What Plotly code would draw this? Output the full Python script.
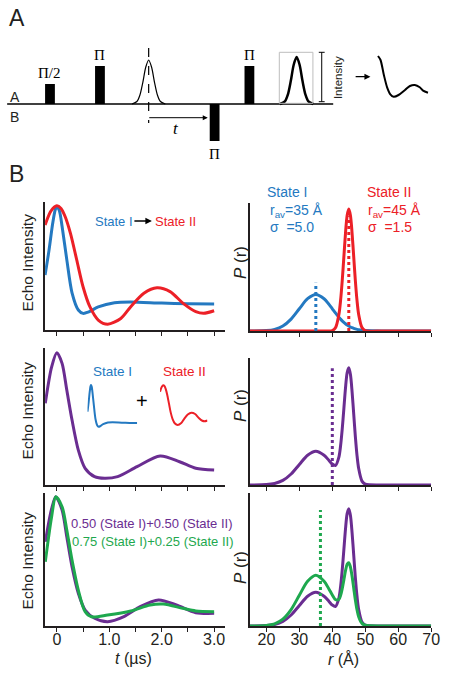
import plotly.graph_objects as go

W, H = 450, 674
def px(x): return x / W
def py(y): return 1 - y / H

FONT = "Liberation Sans, Arial, sans-serif"
SERIF = "Liberation Serif, Times New Roman, serif"
BLUE = "#2479c1"; RED = "#ec2027"; PURPLE = "#6a2d91"; GREEN = "#1ea84e"; AX = "#231f20"

# ---------------- Panel B data ----------------
t_blue = [-0.224, -0.15, -0.08, -0.03, 0.0, 0.05, 0.1, 0.19, 0.29, 0.41, 0.5, 0.6, 0.79, 1.1, 1.4, 2.0, 2.5, 3.0]
v_blue = [0.43, 0.62, 0.83, 0.94, 0.965, 0.93, 0.81, 0.55, 0.29, 0.156, 0.13, 0.14, 0.18, 0.213, 0.219, 0.21, 0.205, 0.203]
t_red = [-0.224, -0.11, 0.0, 0.08, 0.16, 0.26, 0.38, 0.5, 0.63, 0.79, 0.97, 1.22, 1.41, 1.66, 1.91, 2.16, 2.41, 2.65, 2.8, 3.0]
v_red = [0.82, 0.93, 0.97, 0.95, 0.885, 0.755, 0.547, 0.338, 0.182, 0.078, 0.045, 0.09, 0.182, 0.287, 0.33, 0.30, 0.208, 0.143, 0.13, 0.15]
t_mix = [-0.22, -0.1, 0.0, 0.1, 0.19, 0.29, 0.41, 0.54, 0.72, 0.91, 1.16, 1.53, 1.97, 2.34, 2.65, 3.0]
v_mix = [0.596, 0.86, 0.966, 0.888, 0.693, 0.474, 0.255, 0.122, 0.061, 0.049, 0.061, 0.134, 0.212, 0.17, 0.122, 0.109]
t_p50 = [-0.22, -0.1, -0.02, 0.1, 0.19, 0.29, 0.41, 0.54, 0.72, 0.97, 1.28, 1.59, 1.94, 2.28, 2.65, 3.0]
v_p50 = [0.634, 0.88, 0.972, 0.872, 0.671, 0.446, 0.246, 0.12, 0.058, 0.032, 0.07, 0.145, 0.195, 0.158, 0.1, 0.095]
t_g75 = [-0.22, -0.1, -0.02, 0.1, 0.19, 0.29, 0.41, 0.54, 0.66, 0.97, 1.41, 1.78, 2.03, 2.4, 2.65, 3.0]
v_g75 = [0.483, 0.82, 0.972, 0.897, 0.722, 0.496, 0.27, 0.108, 0.07, 0.083, 0.113, 0.158, 0.165, 0.133, 0.113, 0.108]

t_ticks = [0, 1.0, 2.0, 3.0]
t_ticktext = ["0", "1.0", "2.0", "3.0"]

r_grid = [15, 20, 22.5, 25, 27.5, 30, 32.5, 35, 37.5, 39, 40, 41, 42, 42.5, 43, 43.5, 44, 44.5, 45,
          45.5, 46, 46.5, 47, 47.5, 48, 49, 50, 55, 60, 70]
p_state1 = [0.00003, 0.0009, 0.0035, 0.0108, 0.0259, 0.0484, 0.0704, 0.0798, 0.0704, 0.058, 0.0484, 0.0388,
            0.0299, 0.0259, 0.0222, 0.0188, 0.0158, 0.0131, 0.0108, 0.0088, 0.0071, 0.0057, 0.0045, 0.0035,
            0.0027, 0.0016, 0.0009, 0.00003, 0, 0]
p_state2 = [0, 0, 0, 0, 0, 0, 0, 0, 0, 0.0001, 0.001, 0.0076, 0.036, 0.066, 0.109, 0.161, 0.213, 0.252, 0.266,
            0.252, 0.213, 0.161, 0.109, 0.066, 0.036, 0.0076, 0.001, 0, 0, 0]
p_mix50 = [0.00002, 0.00045, 0.00175, 0.0054, 0.013, 0.0242, 0.0352, 0.0399, 0.0352, 0.029, 0.0247, 0.0232,
           0.033, 0.046, 0.0656, 0.090, 0.1144, 0.1326, 0.1384, 0.1304, 0.110, 0.0834, 0.0568, 0.0348,
           0.0194, 0.0046, 0.00095, 0.00002, 0, 0]
p_mix75 = [0.00002, 0.00067, 0.0026, 0.0081, 0.0194, 0.0363, 0.0528, 0.0599, 0.0528, 0.0435, 0.0366, 0.031,
           0.0314, 0.0359, 0.044, 0.0544, 0.0652, 0.0728, 0.0746, 0.0696, 0.0586, 0.0446, 0.0307, 0.0191,
           0.011, 0.0031, 0.0009, 0.00002, 0, 0]
r_ticks = [20, 30, 40, 50, 60, 70]

mark_state1 = (35, 0.105)
mark_state2 = (45, 0.25)
mark_mix50 = (40, 0.138)
mark_mix75 = (36.4, 0.137)

# ---------------- Panel A schematic data (schematic units) ----------------
pulse_x = [51, 102, 254.5, 219]
pulse_w = 10
pulse_h = [20, 38, 38, -37]
pulse_label = ["\u03a0/2", "\u03a0", "\u03a0", "\u03a0"]
echo_dx = [-17, -12, -9, -6, -3, 0, 3, 6, 9, 12, 17]
echo_shape = [0.0, 0.056, 0.198, 0.487, 0.835, 1.0, 0.835, 0.487, 0.198, 0.056, 0.0]
echo1_center, echo1_height = 151.7, 44
echo2_center, echo2_height = 302.7, 47
decay_x = [385.7, 388.3, 391.7, 395, 398.3, 401.7, 406.7, 413.3, 418.3, 423.3, 428.3, 431.7, 436.7]
decay_y = [48, 44, 29, 16.7, 9.7, 7.3, 9, 14, 18, 19, 16.7, 13.3, 11.3]

fig = go.Figure()

def line(x, y, color, xa, width=3, dash=None, shape="spline"):
    fig.add_trace(go.Scatter(x=x, y=y, mode="lines",
                             line=dict(color=color, width=width, shape=shape, smoothing=0.8, dash=dash),
                             xaxis=xa, yaxis=xa.replace("x", "y"), hoverinfo="skip", showlegend=False))

line(t_blue, v_blue, BLUE, "x")
line(t_red, v_red, RED, "x")
line(t_mix, v_mix, PURPLE, "x2")
line(t_p50, v_p50, PURPLE, "x3")
line(t_g75, v_g75, GREEN, "x3")
line(t_blue, v_blue, BLUE, "x7", width=2)
line(t_red, v_red, RED, "x8", width=2)
line(r_grid, p_state1, BLUE, "x4")
line(r_grid, p_state2, RED, "x4")
line([mark_state1[0]] * 2, [0, mark_state1[1]], BLUE, "x4", width=3, dash="dot", shape="linear")
line([mark_state2[0]] * 2, [0, mark_state2[1]], RED, "x4", width=3, dash="dot", shape="linear")
line(r_grid, p_mix50, PURPLE, "x5")
line([mark_mix50[0]] * 2, [0, mark_mix50[1]], PURPLE, "x5", width=3, dash="dot", shape="linear")
line(r_grid, p_mix50, PURPLE, "x6")
line(r_grid, p_mix75, GREEN, "x6")
line([mark_mix75[0]] * 2, [0, mark_mix75[1]], GREEN, "x6", width=3, dash="dot", shape="linear")

ex1 = [echo1_center + d for d in echo_dx]
line(ex1, [echo1_height * s for s in echo_shape], "black", "x9", width=1.2)
ex2 = [echo2_center + d for d in echo_dx]
line(ex2, [echo2_height * s for s in echo_shape], "black", "x9", width=2.5)
line(decay_x, decay_y, "black", "x9", width=2)

def xax(dom, rng, tv, tt, labels, anchor, minor_dt):
    return dict(domain=dom, range=rng, showline=True, linecolor=AX, linewidth=1.5,
                ticks="outside", ticklen=4, tickwidth=1.2, tickcolor=AX, tickvals=tv, ticktext=tt,
                minor=dict(ticks="outside", ticklen=4, tickwidth=1.2, tickcolor=AX, dtick=minor_dt, tick0=0),
                showticklabels=labels, showgrid=False, zeroline=False, anchor=anchor,
                ticklabelstandoff=-6,
                tickfont=dict(family=FONT, size=16, color=AX))

def yax(top, bot, rng, anchor):
    return dict(domain=[py(bot), py(top)], range=rng, showline=True, linecolor=AX, linewidth=1.5,
                ticks="", showticklabels=False, showgrid=False, zeroline=False, anchor=anchor)

def hid(dom, rng, anchor):
    return dict(domain=dom, range=rng, visible=False, anchor=anchor, fixedrange=True)

LX = [px(46), px(230)]; LR = [-0.224, 3.215]
RX = [px(255), px(440)]; RR = [15, 70]
r_tt = [str(v) for v in r_ticks]

layout = dict(
    width=W, height=H, margin=dict(l=0, r=0, t=0, b=0),
    paper_bgcolor="white", plot_bgcolor="rgba(0,0,0,0)", showlegend=False,
    font=dict(family=FONT, color=AX),
    xaxis=xax(LX, LR, t_ticks, t_ticktext, False, "y", 0.5),
    yaxis=yax(202, 330, [0, 1], "x"),
    xaxis2=xax(LX, LR, t_ticks, t_ticktext, False, "y2", 0.5),
    yaxis2=yax(348, 485, [0, 1], "x2"),
    xaxis3=xax(LX, LR, t_ticks, t_ticktext, True, "y3", 0.5),
    yaxis3=yax(493, 626, [0, 1], "x3"),
    xaxis4=xax(RX, RR, r_ticks, r_tt, False, "y4", 10),
    yaxis4=yax(203, 331, [0, 0.279], "x4"),
    xaxis5=xax(RX, RR, r_ticks, r_tt, False, "y5", 10),
    yaxis5=yax(358, 485, [0, 0.150], "x5"),
    xaxis6=xax(RX, RR, r_ticks, r_tt, True, "y6", 10),
    yaxis6=yax(493, 626, [0, 0.157], "x6"),
    xaxis7=hid([px(89.3), px(140)], [-0.224, 3.0], "y7"),
    yaxis7=hid([py(433.2), py(383.2)], [0, 1], "x7"),
    xaxis8=hid([px(163.3), px(211.7)], [-0.224, 3.0], "y8"),
    yaxis8=hid([py(426.9), py(383.9)], [0, 1], "x8"),
    xaxis9=hid([0, 1], [0, 450], "y9"),
    yaxis9=hid([py(160), 1], [-56, 104], "x9"),
)
fig.update_layout(**layout)

ann = []
def txt(x, y, s, size=14, color=AX, xa="center", angle=0, family=FONT):
    ann.append(dict(x=px(x), y=py(y), xref="paper", yref="paper", text=s, showarrow=False,
                    xanchor=xa, yanchor="middle", textangle=angle,
                    font=dict(family=family, size=size, color=color)))

def arrow(x0, x1, y, width=1.3):
    ann.append(dict(x=px(x1), y=py(y), xref="paper", yref="paper", ax=x0 - x1, ay=0, text="",
                    showarrow=True, arrowhead=2, arrowsize=1, arrowwidth=width, arrowcolor="black",
                    standoff=0, startstandoff=0))

txt(17, 18, "A", size=23)
txt(17, 174, "B", size=23)
txt(15, 96.7, "A", size=14)
txt(15, 116.7, "B", size=14)
for xc, h, lab in zip(pulse_x, pulse_h, pulse_label):
    if h > 0:
        ann.append(dict(x=xc, y=h + 1, xref="x9", yref="y9", text=lab, showarrow=False, yanchor="bottom",
                        font=dict(family=SERIF, size=15, color="black")))
    else:
        ann.append(dict(x=xc, y=h - 3, xref="x9", yref="y9", text=lab, showarrow=False, yanchor="top",
                        font=dict(family=SERIF, size=15, color="black")))
txt(180, 128.5, "<i>t</i>", size=17, family=SERIF, color="black")
txt(345, 78, "Intensity", size=11.5, angle=-90)
arrow(152, 212, 117.7, width=1)
arrow(361.7, 378, 76.7, width=1.2)

for yc in (262, 410, 560):
    txt(28, yc, "Echo Intensity", size=15.5, angle=-90)
for yc in (263, 406, 568):
    txt(245, yc, "<i>P</i> (r)", size=17, angle=-90)
txt(95, 221, "State I", size=13, color=BLUE, xa="left")
arrow(136, 155, 221, width=1.3)
txt(156, 221, "State II", size=13, color=RED, xa="left")

txt(115, 371, "State I", size=13.5, color=BLUE)
txt(188, 371, "State II", size=13.5, color=RED)
txt(145, 401, "+", size=20, color="black")

txt(70, 523, "0.50 (State I)+0.50 (State II)", size=13, color=PURPLE, xa="left")
txt(71, 541, "0.75 (State I)+0.25 (State II)", size=13, color=GREEN, xa="left")

txt(292.5, 192, "State I", size=14, color=BLUE)
txt(273, 211, "r<sub>av</sub>=35 \u00c5", size=14, color=BLUE, xa="left")
txt(273, 227, "\u03c3\u00a0\u00a0=5.0", size=14, color=BLUE, xa="left")
txt(372, 192, "State II", size=14, color=RED, xa="left")
txt(373, 211, "r<sub>av</sub>=45 \u00c5", size=14, color=RED, xa="left")
txt(373, 227, "\u03c3\u00a0\u00a0=1.5", size=14, color=RED, xa="left")

txt(136, 658, "<i>t</i> (\u00b5s)", size=16)
txt(350, 659, "<i>r</i> (\u00c5)", size=16)

fig.update_layout(annotations=ann)

shapes = []
shapes.append(dict(type="line", xref="x9", yref="y9", x0=7.3, x1=340, y0=0, y1=0,
                   line=dict(color="black", width=1.5)))
for xc, h in zip(pulse_x, pulse_h):
    shapes.append(dict(type="rect", xref="x9", yref="y9", x0=xc - pulse_w / 2, x1=xc + pulse_w / 2,
                       y0=0, y1=h, fillcolor="black", line=dict(width=0)))
shapes.append(dict(type="line", xref="x9", yref="y9", x0=echo1_center, x1=echo1_center, y0=56, y1=-19,
                   line=dict(color="black", width=1.2, dash="dash")))
shapes.append(dict(type="rect", xref="x9", yref="y9", x0=285, x1=319.3, y0=0.7, y1=51.7,
                   line=dict(color="#bdbdbd", width=1)))
shapes.append(dict(type="line", xref="x9", yref="y9", x0=328.3, x1=328.3, y0=2.3, y1=51.7,
                   line=dict(color="black", width=1)))
for yv in (2.3, 51.7):
    shapes.append(dict(type="line", xref="x9", yref="y9", x0=325.3, x1=331.3, y0=yv, y1=yv,
                       line=dict(color="black", width=1)))
fig.update_layout(shapes=shapes)

fig.write_html("out.html", config={"displayModeBar": False},
               post_script="document.body.style.margin='0';document.body.style.overflow='hidden';")
